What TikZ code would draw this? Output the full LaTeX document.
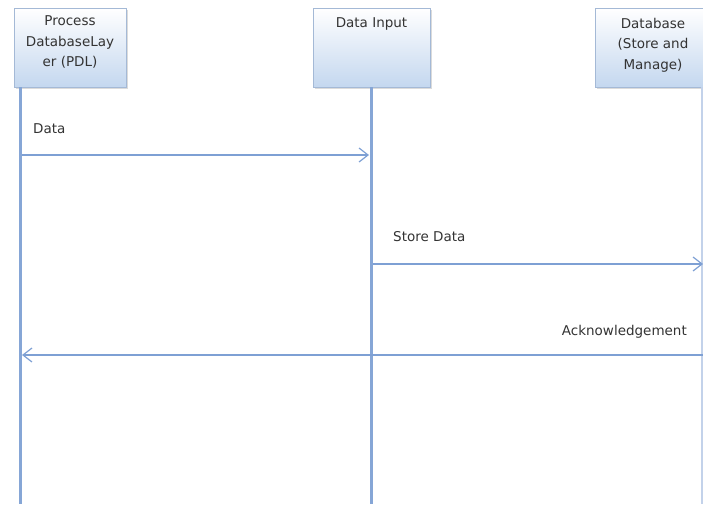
\documentclass[tikz,border=0pt]{standalone}
\usepackage{fontspec}
\setmainfont{DejaVu Sans}
\usetikzlibrary{arrows.meta,positioning,shadows}
\definecolor{lifeblue}{HTML}{86A6D6}
\definecolor{msgblue}{HTML}{7EA0D4}
\definecolor{boxline}{HTML}{A4B9D6}
\definecolor{boxfill}{HTML}{C4D7EF}
\begin{document}
\begin{tikzpicture}[x=1pt,y=-1pt,
    every node/.style={font=\fontsize{13.5}{20.5}\selectfont},
    actor/.style={draw=boxline,line width=0.8pt,top color=white,bottom color=boxfill,
      minimum height=79pt,inner sep=0pt,
      drop shadow={shadow xshift=2pt,shadow yshift=-2pt,fill=gray!40,opacity=0.7}},
    actortext/.style={align=center,inner sep=0pt,anchor=north,text=black!80},
    lifeline/.style={draw=lifeblue,line width=3pt},
    msg/.style={draw=msgblue,line width=1.2pt,-{Straight Barb[length=9pt,width=14pt,line width=1.2pt]}},
    msgtext/.style={inner sep=0pt,text=black!80}]
    \useasboundingbox (0,0) rectangle (703,504);
    \clip (0,0) rectangle (703,504);
    \node[actor,minimum width=112pt] (pdl) at (70,47.5) {};
    \node[actor,minimum width=117pt] (input) at (371.5,47.5) {};
    \node[actor,minimum width=116pt] (db) at (653,47.5) {};
    \node[actortext,below=8pt of pdl.north] (pdl text) {Process\\DatabaseLay\\er (PDL)};
    \node[actortext,below=10pt of input.north] (input text) {Data Input};
    \node[actortext,below=10pt of db.north] (db text) {Database\\(Store and\\Manage)};
    \coordinate (pdl top) at (20,87);
    \coordinate (pdl end) at (20,504);
    \coordinate (input top) at (371,87);
    \coordinate (input end) at (371,504);
    \coordinate (db top) at (702,87);
    \coordinate (db end) at (702,504);
    \draw[lifeline] (pdl top) -- (pdl end);
    \draw[lifeline] (input top) -- (input end);
    \draw[lifeline,draw=lifeblue!50] (db top) -- (db end);
    \coordinate (m1 from) at (22,155);
    \coordinate (m1 to) at (369,155);
    \coordinate (m2 from) at (373,264);
    \coordinate (m2 to) at (703,264);
    \coordinate (m3 from) at (703,355);
    \coordinate (m3 to) at (22,355);
    \draw[msg] (m1 from) -- (m1 to);
    \draw[msg] (m2 from) -- (m2 to);
    \draw[msg] (m3 from) -- (m3 to);
    \node[msgtext,anchor=west] (m1 text) at (33,129) {Data};
    \node[msgtext,anchor=west] (m2 text) at (393,237) {Store Data};
    \node[msgtext,anchor=east] (m3 text) at (687,332) {Acknowledgement};
\end{tikzpicture}
\end{document}
